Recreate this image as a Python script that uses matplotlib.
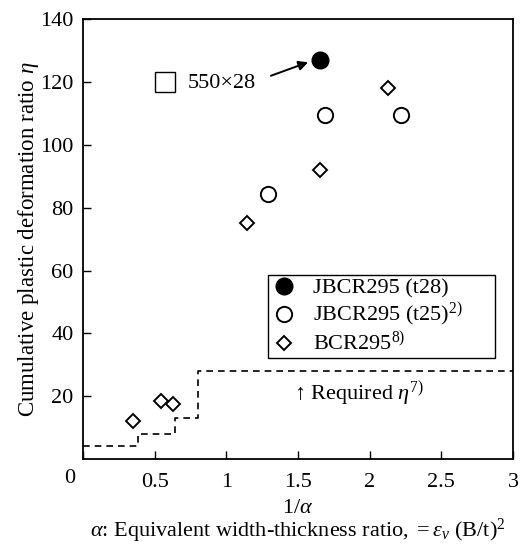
import matplotlib
matplotlib.use("Agg")
import matplotlib.pyplot as plt

plt.rcParams['font.family'] = ['Liberation Serif', 'DejaVu Serif']
plt.rcParams['mathtext.fontset'] = 'custom'
plt.rcParams['mathtext.rm'] = 'Liberation Serif'
plt.rcParams['mathtext.it'] = 'Liberation Serif:italic'
plt.rcParams['mathtext.bf'] = 'Liberation Serif:bold'

# data
jbcr_t28_x = [1.65]
jbcr_t28_y = [127.0]
jbcr_t25_x = [1.29, 1.69, 2.22]
jbcr_t25_y = [84.5, 109.5, 109.5]
bcr_x = [0.35, 0.54, 0.63, 1.14, 1.65, 2.13]
bcr_y = [12.0, 18.6, 17.4, 75.0, 92.0, 118.0]
# required eta, step line
req_x = [0.0, 0.38, 0.38, 0.64, 0.64, 0.80, 0.80, 3.0]
req_y = [4, 4, 8, 8, 13, 13, 28, 28]

FS = 16

fig = plt.figure(figsize=(5.23, 5.49), dpi=100)
ax = fig.add_axes([0.159, 0.164, 0.822, 0.801])

ax.plot(req_x, req_y, color='black', linestyle=(0, (4, 3)), linewidth=1.2)
ax.plot(jbcr_t28_x, jbcr_t28_y, 'o', color='black', markersize=12, label='JBCR295 (t28)')
ax.plot(jbcr_t25_x, jbcr_t25_y, 'o', markerfacecolor='white', markeredgecolor='black',
        markeredgewidth=1.4, markersize=11, label='JBCR295 (t25)$^{2)}$')
ax.plot(bcr_x, bcr_y, 'D', markerfacecolor='white', markeredgecolor='black',
        markeredgewidth=1.4, markersize=7.5, label='BCR295$^{8)}$')

# annotation for 550x28 specimen
ax.plot([0.57], [120.0], 's', markerfacecolor='white', markeredgecolor='black',
        markeredgewidth=1.0, markersize=14)
ax.text(0.73, 119.5, '550\u00d728', fontsize=FS, va='center', ha='left')
ax.annotate('', xy=(1.57, 126.3), xytext=(1.31, 122.0),
            arrowprops=dict(arrowstyle='-|>', color='black', lw=1.4, mutation_scale=14,
                            shrinkA=0, shrinkB=0))

ax.text(1.47, 20.5, '\u2191 Required $\\eta^{7)}$', fontsize=FS, ha='left', va='center')

ax.set_xlim(0, 3)
ax.set_ylim(0, 140)
ax.set_xticks([0, 0.5, 1, 1.5, 2, 2.5, 3])
ax.set_xticklabels(['', '0.5', '1', '1.5', '2', '2.5', '3'])
ax.set_yticks([20, 40, 60, 80, 100, 120, 140])
ax.tick_params(direction='in', length=6, width=1.0, labelsize=FS)
ax.tick_params(axis='x', pad=10)
ax.tick_params(axis='y', pad=7)
for s in ax.spines.values():
    s.set_linewidth(1.3)
# shared zero at the corner
ax.text(-0.031, -0.044, '0', transform=ax.transAxes, fontsize=FS, ha='center', va='center')

ax.set_ylabel('Cumulative plastic deformation ratio $\\eta$', fontsize=16.5, labelpad=-1)
ax.set_xlabel('$1/\\alpha$', fontsize=FS, labelpad=5)
fig.text(0.57, 0.022, '$\\alpha$: Equivalent width-thickness ratio, $= \\varepsilon_v$ (B/t)$^2$',
         fontsize=FS, ha='center', va='baseline')

leg = ax.legend(loc='upper left', bbox_to_anchor=(0.4295, 0.218, 0.528, 0.2), mode='expand',
                fontsize=FS, frameon=True, fancybox=False, edgecolor='black', framealpha=1,
                handletextpad=0.7, borderpad=0.12, labelspacing=0.12, handlelength=1.2,
                borderaxespad=0)
leg.get_frame().set_linewidth(1.0)

fig.savefig('out.png', dpi=100)
